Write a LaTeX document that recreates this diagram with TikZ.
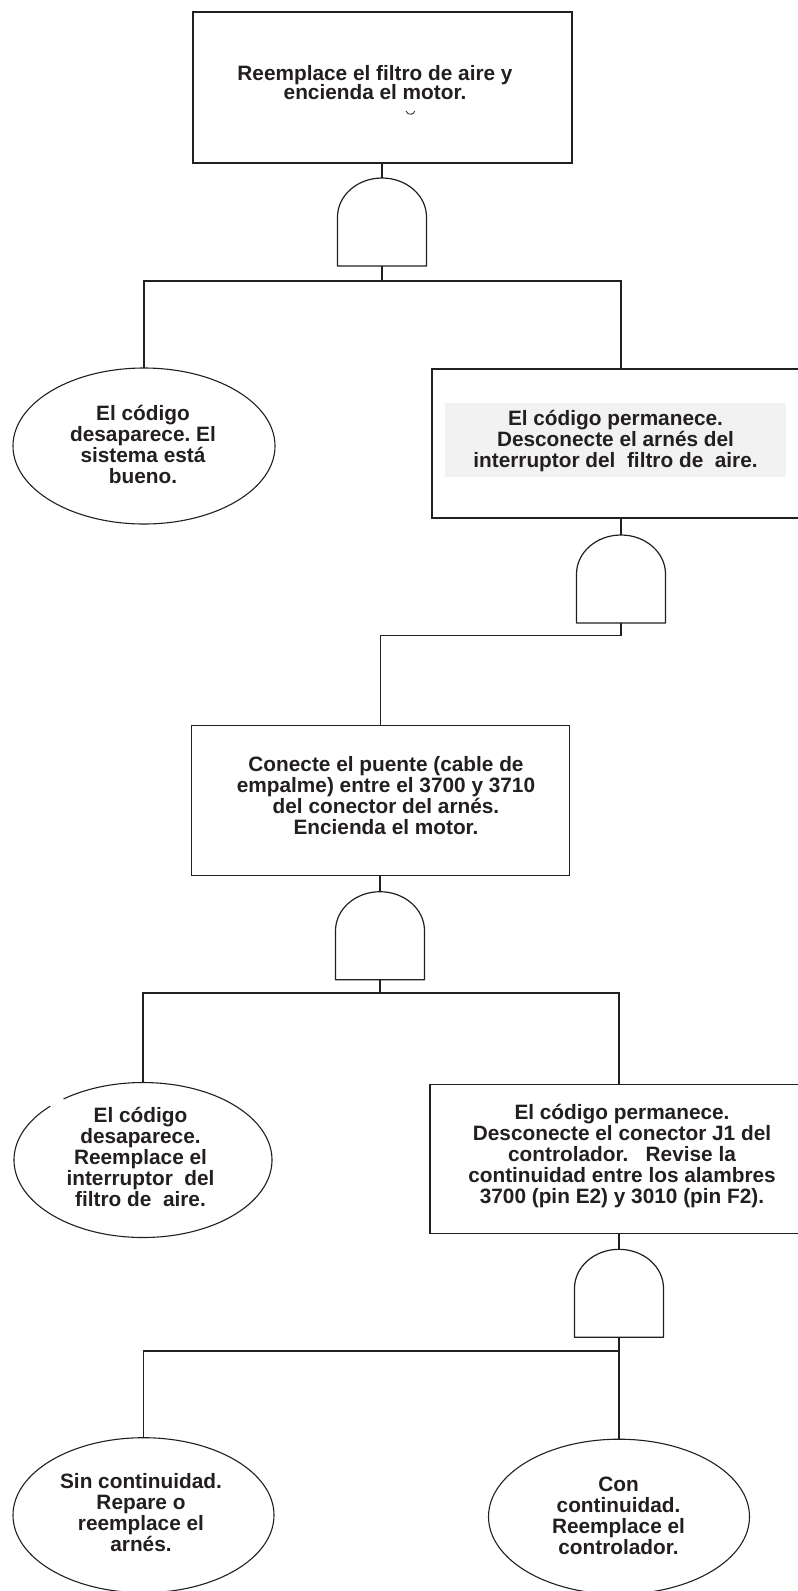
\documentclass[tikz,border=0pt]{standalone}
\usepackage{fontspec}
\setmainfont{Liberation Sans}
\usetikzlibrary{shapes.geometric}
\definecolor{ink}{HTML}{231F20}
\definecolor{panel}{HTML}{F2F2F2}
\newcommand{\txtfont}{\bfseries\fontsize{20.8}{21}\selectfont}
\newcommand{\txtfonttight}{\bfseries\fontsize{20.8}{19}\selectfont}
\setlength{\lineskiplimit}{-30pt}
\frenchspacing
\begin{document}
\begin{tikzpicture}[x=1pt,y=-1pt,
  every node/.style={inner sep=0pt,outer sep=0pt},
  line/.style={draw=ink,line width=1.1pt},
  boxnode/.style={rectangle,draw=ink,line width=1.1pt},
  gatebox/.style={rectangle,minimum width=89pt,minimum height=88pt},
  gateline/.style={draw=ink,line width=1.2pt,line join=round},
  ellnode/.style={ellipse,draw=ink,line width=1.1pt},
  txt/.style={text=ink,align=center,font=\txtfont},
  txttight/.style={text=ink,align=center,font=\txtfonttight}
]
\useasboundingbox (0,0) rectangle (798,1591);
\fill[white] (0,0) rectangle (798,1591);
\clip (0,0) rectangle (798,1591);

% boxes
\node[boxnode,minimum width=379pt,minimum height=151pt] (top) at (382.5,87.5) {};
\node[boxnode,minimum width=378pt,minimum height=149pt] (b2) at (621,443.5) {};
\node[rectangle,fill=panel,minimum width=341pt,minimum height=74pt] (p2) at (615.5,440) {};
\node[boxnode,minimum width=377.6pt,minimum height=149.3pt] (b3) at (380.5,800.4) {};
\node[boxnode,minimum width=378pt,minimum height=149.3pt] (b4) at (619,1158.7) {};

% ellipses
\node[ellnode,minimum width=262pt,minimum height=156pt] (e1) at (144,446) {};
\node[ellipse,minimum width=258pt,minimum height=155pt] (e3) at (143,1160) {};
\draw[line] ([shift={(136:129pt and 77.5pt)}]e3.center) arc[start angle=136,end angle=488,x radius=129pt,y radius=77.5pt];
\node[ellnode,minimum width=261pt,minimum height=155pt] (e5) at (143.5,1515.2) {};
\node[ellnode,minimum width=261pt,minimum height=155pt] (e6) at (619,1516.7) {};

% gates
\node[gatebox] (g1) at (382,222) {};
\node[gatebox] (g2) at (621,579) {};
\node[gatebox] (g3) at (380,935.7) {};
\node[gatebox] (g4) at (619,1293.3) {};
\foreach \g in {g1,g2,g3,g4}{
  \draw[gateline] (\g.south west) -- ++(0,-49) arc[start angle=180,end angle=0,x radius=44.5pt,y radius=39pt] -- (\g.south east) -- cycle;
}

% texts
\node[txttight] (t1) at (375,83) {Reemplace el filtro de aire y\\encienda el motor.};
\draw[ink,line width=0.8pt] (406,111) arc[start angle=195,end angle=345,radius=4.5pt];
\node[txt] (t2) at (143,444) {El código\\desaparece. El\\sistema está\\bueno.};
\node[txt] (t3) at (615.5,441) {El código permanece.\\Desconecte el arnés del\\interruptor del\ \ filtro de\ \ aire.};
\node[txt] (t4) at (386,796) {Conecte el puente (cable de\\empalme) entre el 3700 y 3710\\del conector del arnés.\\Encienda el motor.};
\node[txt] (t5) at (140.5,1157) {El código\\desaparece.\\Reemplace el\\interruptor\ \ del\\filtro de\ \ aire.};
\node[txt] (t6) at (622,1156) {El código permanece.\\Desconecte el conector J1 del\\controlador.\ \ \ Revise la\\continuidad entre los alambres\\3700 (pin E2) y 3010 (pin F2).};
\node[txt] (t7) at (141,1513) {Sin continuidad.\\Repare o\\reemplace el\\arnés.};
\node[txt] (t8) at (618.5,1516) {Con\\continuidad.\\Reemplace el\\controlador.};

% connectors
\coordinate (j1) at (382,281);
\coordinate (j2) at (621,635.7);
\coordinate (j3) at (380,993);
\coordinate (j4) at (619,1351);
\draw[line] (g1.north |- top.south) -- (g1.north);
\draw[line] (g1.south) -- (j1);
\draw[line] (e1.north) |- (j1) -| (b2.north);
\draw[line] (b2.south) -- (g2.north);
\draw[line] (g2.south) -- (j2) -| (b3.north);
\draw[line] (b3.south -| g3.north) -- (g3.north);
\draw[line] (g3.south) -- (j3);
\draw[line] (e3.north) |- (j3) -| (b4.north);
\draw[line] (b4.south) -- (g4.north);
\draw[line] (g4.south) -- (j4);
\draw[line] (e5.north) |- (j4) -- (e6.north);
\end{tikzpicture}
\end{document}
